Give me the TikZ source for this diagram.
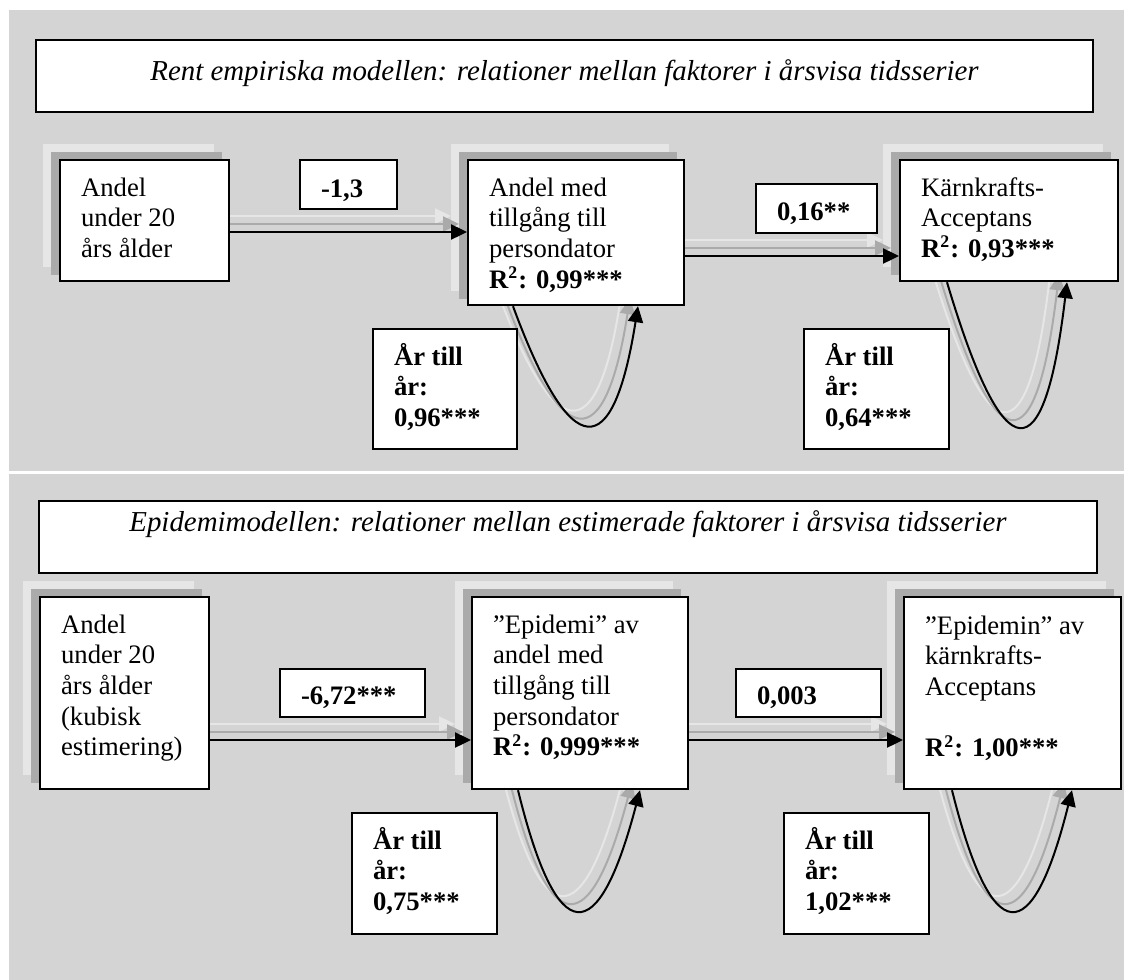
\documentclass[tikz,border=0pt]{standalone}
\usepackage{fontspec}
\setmainfont{Liberation Serif}
\usetikzlibrary{arrows.meta,calc}
\pgfdeclarelayer{panel}
\pgfdeclarelayer{shadow}
\pgfsetlayers{panel,shadow,main}
\newdimen\upxd \upxd=0.45pt
\definecolor{panelgray}{HTML}{D4D4D4}
\definecolor{shdA}{HTML}{AAAAAA}
\definecolor{shdB}{HTML}{E6E6E6}
% box text: #1 first-line strut (px), #2 width (px), #3 height (px), #4 text
\newcommand\bt[4]{\parbox[c][#3\upxd][t]{#2\upxd}{\raggedright\leftskip=21\upxd\relax\rule{0pt}{#1\upxd}#4}}
\newcommand\ttl[4]{\parbox[c][#3\upxd][t]{#2\upxd}{\centering\fontsize{13pt}{15pt}\selectfont\itshape\rule{0pt}{#1\upxd}#4}}
% shadow rectangle of a node
\newcommand\boxshadow[3]{\fill[#1] ($(#2.north west)+#3$) rectangle ($(#2.south east)+#3$);}
% self loop below a node
\newcommand\sloop[9]{\draw[#1] ($(#2.south west)+(#3,0)+#9$) .. controls ($(#2.south west)+(#4,#6)+#9$) and ($(#2.south west)+(#5,#6)+#9$) .. ($(#2.south west)+(#7,#8)+#9$);}
\begin{document}
\begin{tikzpicture}[x=0.45pt,y=-0.45pt,
  font=\fontsize{12pt}{13.8pt}\selectfont,
  mbox/.style={draw=black,line width=1pt,fill=white,inner sep=0pt,anchor=north west},
  lbox/.style={draw=black,line width=0.9pt,fill=white,inner sep=0pt,anchor=north west},
  conn/.style={line width=0.9pt,-{Triangle[length=7.2pt,width=6.8pt]}}]

\begin{pgfonlayer}{panel}
\fill[white] (0,0) rectangle (1124,980);
\fill[panelgray] (9,10) rectangle (1124,471);
\fill[panelgray] (9,474) rectangle (1124,980);
\end{pgfonlayer}
\useasboundingbox (0,0) rectangle (1124,980);

% ---------- top panel ----------
\node[lbox] (T1) at (35,39) {\ttl{40}{1057}{72}{Rent empiriska modellen: relationer mellan faktorer i årsvisa tidsserier}};
\node[mbox] (A1) at (59,159) {\bt{36}{169}{121}{Andel\\under 20\\års ålder}};
\node[mbox] (B1) at (467,159) {\bt{36}{216}{145}{Andel med\\tillgång till\\persondator\\{\bfseries R\textsuperscript{2}: 0,99***}}};
\node[mbox] (C1) at (899,159) {\bt{36}{218}{121}{Kärnkrafts-\\Acceptans\\{\bfseries R\textsuperscript{2}: 0,93***}}};
\node[lbox] (L1) at (299,159) {\bt{37}{97}{49}{\bfseries -1,3}};
\node[lbox] (L2) at (755,183) {\bt{36}{121}{49}{\bfseries 0,16**}};
\node[lbox] (Y1) at (372,328) {\bt{36}{144}{120}{\bfseries År till\\år:\\0,96***}};
\node[lbox] (Y2) at (803,328) {\bt{36}{145}{120}{\bfseries År till\\år:\\0,64***}};

% ---------- bottom panel ----------
\node[lbox] (T2) at (38,500) {\ttl{30}{1058}{72}{Epidemimodellen: relationer mellan estimerade faktorer i årsvisa tidsserier}};
\node[mbox] (A2) at (39,596) {\bt{36}{169}{192}{Andel\\under 20\\års ålder\\(kubisk\\estimering)}};
\node[mbox] (B2) at (471,596) {\bt{36}{216}{192}{”Epidemi” av\\andel med\\tillgång till\\persondator\\{\bfseries R\textsuperscript{2}: 0,999***}}};
\node[mbox] (C2) at (903,596) {\bt{37}{217}{192}{”Epidemin” av\\kärnkrafts-\\Acceptans\\\mbox{}\\{\bfseries R\textsuperscript{2}: 1,00***}}};
\node[lbox] (L3) at (279,668) {\bt{35}{145}{48}{\bfseries -6,72***}};
\node[lbox] (L4) at (735,668) {\bt{35}{145}{48}{\bfseries 0,003}};
\node[lbox] (Y3) at (351,812) {\bt{36}{145}{121}{\bfseries År till\\år:\\0,75***}};
\node[lbox] (Y4) at (783,812) {\bt{36}{145}{121}{\bfseries År till\\år:\\1,02***}};

\coordinate (ya) at (0,232);
\coordinate (yb) at (0,256);
\coordinate (yc) at (0,740);

% ---------- shadows ----------
\begin{pgfonlayer}{shadow}
\foreach \n in {A1,B1,C1,A2,B2,C2} {\boxshadow{shdB}{\n}{(-16,-15)}}
\draw[conn,draw=shdB] ($(A1.east |- ya)+(-16,-16)$) -- ($(B1.west |- ya)+(-16,-16)$);
\draw[conn,draw=shdB] ($(B1.east |- yb)+(-16,-16)$) -- ($(C1.west |- yb)+(-16,-16)$);
\draw[conn,draw=shdB] ($(A2.east |- yc)+(-16,-16)$) -- ($(B2.west |- yc)+(-16,-16)$);
\draw[conn,draw=shdB] ($(B2.east |- yc)+(-16,-16)$) -- ($(C2.west |- yc)+(-16,-16)$);
\sloop{conn,draw=shdB}{B1}{46}{104.3}{146}{158}{171}{0}{(-16,-16)}
\sloop{conn,draw=shdB}{C1}{48}{105.3}{145.3}{192}{168}{0}{(-16,-16)}
\sloop{conn,draw=shdB}{B2}{47}{86.3}{127}{160}{169}{0}{(-16,-16)}
\sloop{conn,draw=shdB}{C2}{49}{89}{129}{160}{169}{0}{(-16,-16)}
\foreach \n in {A1,B1,C1,A2,B2,C2} {\boxshadow{shdA}{\n}{(-8,-7)}}
\draw[conn,draw=shdA] ($(A1.east |- ya)+(-8,-8)$) -- ($(B1.west |- ya)+(-8,-8)$);
\draw[conn,draw=shdA] ($(B1.east |- yb)+(-8,-8)$) -- ($(C1.west |- yb)+(-8,-8)$);
\draw[conn,draw=shdA] ($(A2.east |- yc)+(-8,-8)$) -- ($(B2.west |- yc)+(-8,-8)$);
\draw[conn,draw=shdA] ($(B2.east |- yc)+(-8,-8)$) -- ($(C2.west |- yc)+(-8,-8)$);
\sloop{conn,draw=shdA}{B1}{46}{104.3}{146}{158}{171}{0}{(-8,-8)}
\sloop{conn,draw=shdA}{C1}{48}{105.3}{145.3}{192}{168}{0}{(-8,-8)}
\sloop{conn,draw=shdA}{B2}{47}{86.3}{127}{160}{169}{0}{(-8,-8)}
\sloop{conn,draw=shdA}{C2}{49}{89}{129}{160}{169}{0}{(-8,-8)}
\end{pgfonlayer}

% ---------- connectors ----------
\draw[conn] (A1.east |- ya) -- (B1.west |- ya);
\draw[conn] (B1.east |- yb) -- (C1.west |- yb);
\draw[conn] (A2.east |- yc) -- (B2.west |- yc);
\draw[conn] (B2.east |- yc) -- (C2.west |- yc);
\sloop{conn}{B1}{46}{104.3}{146}{158}{171}{0}{(0,0)}
\sloop{conn}{C1}{48}{105.3}{145.3}{192}{168}{0}{(0,0)}
\sloop{conn}{B2}{47}{86.3}{127}{160}{169}{0}{(0,0)}
\sloop{conn}{C2}{49}{89}{129}{160}{169}{0}{(0,0)}
\end{tikzpicture}
\end{document}
